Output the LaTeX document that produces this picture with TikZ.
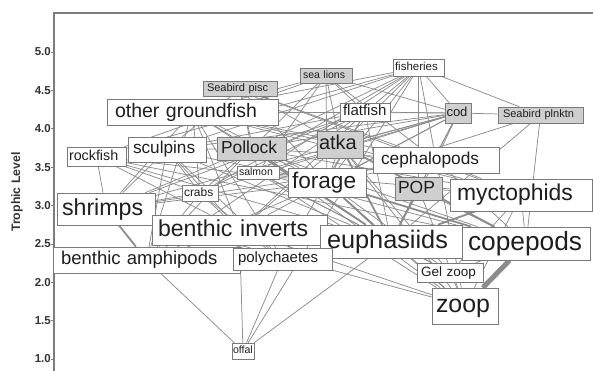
\documentclass[tikz,border=0pt]{standalone}
\usepackage{fontspec}
\setmainfont{Liberation Sans}
\usetikzlibrary{shadows, backgrounds}
\definecolor{linkgray}{HTML}{8C8C8C}
\definecolor{boxline}{HTML}{7A7A7A}
\definecolor{boxshade}{HTML}{CFCFCF}
\definecolor{inkgray}{HTML}{1E1E1E}
\definecolor{axisgray}{HTML}{7C7C7C}
\tikzset{
  box/.style={rectangle, draw=boxline, line width=0.6pt, fill=white,
              text=inkgray, inner ysep=0pt, align=left,
              drop shadow={shadow xshift=1.3pt, shadow yshift=-1.3pt,
                           fill=black!55, opacity=1}},
  grbox/.style={box, fill=boxshade},
  sz/.style n args={4}{text width=#1pt, minimum height=#2pt, inner xsep=#4pt,
                       font=\fontsize{#3}{#3}\selectfont,
                       text height=0.72*#3pt, text depth=0.2*#3pt},
  link/.style={draw=linkgray, line width=0.75pt},
  flow/.style={link, line width=1.8pt},
  axis/.style={draw=axisgray, line width=1.2pt},
  ticklab/.style={font=\bfseries\fontsize{11.5}{11.5}\selectfont, text=black!80,
                  anchor=east, inner sep=0pt}
}

\begin{document}
\begin{tikzpicture}[x=1pt, y=-1pt]
\useasboundingbox (0,0) rectangle (593,371);

% Axes
\draw[axis] (54,371) -- (54,13) -- (593,13);
\node[ticklab] (L50) at (51,52) {5.0};
\node[ticklab] (L45) at (51,90.4) {4.5};
\node[ticklab] (L40) at (51,128.8) {4.0};
\node[ticklab] (L35) at (51,167.1) {3.5};
\node[ticklab] (L30) at (51,205.5) {3.0};
\node[ticklab] (L25) at (51,243.9) {2.5};
\node[ticklab] (L20) at (51,282.3) {2.0};
\node[ticklab] (L15) at (51,320.6) {1.5};
\node[ticklab] (L10) at (51,359) {1.0};
\draw[axis, line width=0.8pt] (L50.east) -- ++(3,0) (L45.east) -- ++(3,0)
  (L40.east) -- ++(3,0) (L35.east) -- ++(3,0) (L30.east) -- ++(3,0)
  (L25.east) -- ++(3,0) (L20.east) -- ++(3,0) (L15.east) -- ++(3,0)
  (L10.east) -- ++(3,0);
\node[rotate=90, font=\bfseries\fontsize{12.3}{12.3}\selectfont, text=black!80]
  (TLevel) at (17,192) {Trophic Level};

% Top predators
\node[box, sz={47}{17}{11.5}{2}] (Fisheries) at (418.5,67.5) {fisheries};
\node[grbox, sz={46}{15}{10.5}{3}] (SeaLions) at (326,75.5) {sea lions};
\node[grbox, sz={66}{15}{11}{4}] (SeabirdPisc) at (240,88.5) {Seabird pisc};
\node[box, sz={155}{26}{19.5}{8}] (OtherGF) at (192.5,112) {other groundfish};
\node[box, sz={44}{18}{15}{3}] (Flatfish) at (365,112) {flatfish};
\node[grbox, sz={23}{20}{13}{1.5}] (Cod) at (458,113) {cod};
\node[grbox, sz={75}{16}{11}{5}] (SeabirdPlk) at (540.5,115) {Seabird plnktn};

% Mid level fish
\node[box, sz={55}{19}{14.3}{2}] (Rockfish) at (96.5,156.5) {rockfish};
\node[box, sz={68}{25}{17.2}{5}] (Sculpins) at (167,149.5) {sculpins};
\node[grbox, sz={61}{23}{17.4}{4}] (Pollock) at (251.5,148.5) {Pollock};
\node[grbox, sz={42}{27}{20}{2}] (Atka) at (340,144.5) {atka};
\node[box, sz={110}{26}{17.3}{8}] (Cephalo) at (436,160) {cephalopods};
\node[box, sz={38}{13}{10.5}{2}] (Salmon) at (258,172.5) {salmon};
\node[box, sz={70}{29}{22.6}{4}] (Forage) at (327,182.5) {forage};
\node[grbox, sz={41}{23}{17.5}{3}] (POP) at (418.5,188.5) {POP};
\node[box, sz={128}{32}{22.9}{7}] (Mycto) at (521,195) {myctophids};
\node[box, sz={32}{16}{12}{2}] (Crabs) at (200,193) {crabs};

% Lower levels
\node[box, sz={88}{32}{23.2}{5}] (Shrimps) at (106,209) {shrimps};
\node[box, sz={163}{30}{23.1}{6}] (BenthInv) at (239.5,230) {benthic inverts};
\node[box, sz={128}{33}{25.3}{7}] (Euphs) at (391,241.5) {euphasiids};
\node[box, sz={116}{33}{26.3}{6}] (Copepods) at (526,243.5) {copepods};
\node[box, sz={171}{26}{18.5}{8}] (BenthAmph) at (146.5,260) {benthic amphipods};
\node[box, sz={89}{22}{15}{5}] (Polych) at (282.5,259) {polychaetes};
\node[box, sz={58}{19}{13.5}{4}] (GelZoop) at (450,272.5) {Gel zoop};
\node[box, sz={58}{36}{24.9}{4}] (Zoop) at (465,306) {zoop};
\node[box, sz={20}{16}{10.6}{1}] (Offal) at (243,351) {offal};

% --- Links ---
\begin{scope}[on background layer]
% fisheries
\draw[link] (Fisheries) edge (OtherGF) edge (Sculpins) edge (Rockfish) edge (Pollock)
  edge (Flatfish) edge (Atka) edge (Cod) edge (POP) edge (Cephalo) edge (Salmon)
  edge (Crabs) edge (SeabirdPlk) edge (Offal) edge (Forage);
% sea lions
\draw[link] (SeaLions) edge (Pollock) edge (Atka) edge (OtherGF) edge (Salmon)
  edge (Forage) edge (Cephalo) edge (Flatfish) edge (Cod) edge (Rockfish);
% seabirds
\draw[link] (SeabirdPisc) edge (Pollock) edge (Forage) edge (Sculpins) edge (Mycto)
  edge (Cephalo) edge (Atka) edge (Salmon);
\draw[link] (SeabirdPlk) edge (Euphs) edge (Copepods) edge (Forage) edge (Cod);
% cod
\draw[link] (Cod) edge (Pollock) edge (Atka) edge (Flatfish) edge (Sculpins)
  edge (Forage) edge (Shrimps) edge (Crabs) edge (BenthInv) edge (Euphs)
  edge (Cephalo) edge (POP) edge (OtherGF) edge (Salmon);
% other groundfish
\draw[link] (OtherGF) edge (Shrimps) edge (BenthInv) edge (Crabs) edge (Forage)
  edge (Polych) edge (Euphs) edge (BenthAmph) edge (Pollock) edge (Flatfish)
  edge (Cephalo) edge (Mycto) edge (Atka);
% flatfish
\draw[link] (Flatfish) edge (BenthInv) edge (Polych) edge (BenthAmph) edge (Shrimps)
  edge (Crabs) edge (Euphs) edge (Forage) edge (Pollock) edge (Sculpins);
% rockfish, sculpins
\draw[link] (Rockfish) edge (Shrimps) edge (BenthInv) edge (Euphs) edge (Forage)
  edge (Crabs) edge (Copepods);
\draw[link] (Sculpins) edge (Shrimps) edge (Crabs) edge (BenthInv) edge (BenthAmph)
  edge (Polych) edge (Forage) edge (Euphs) edge (Pollock);
% pollock, atka
\draw[link] (Pollock) edge[flow] (Euphs) edge (Copepods) edge (Forage) edge (Shrimps)
  edge (Mycto) edge (Zoop) edge (BenthAmph) edge (Crabs) edge (Cephalo);
\draw[link] (Atka) edge[flow] (Euphs) edge[flow] (Copepods) edge (Forage) edge (Zoop)
  edge (BenthInv) edge (Mycto) edge (GelZoop);
% cephalopods, salmon
\draw[link] (Cephalo) edge (Forage) edge (Euphs) edge (Mycto) edge (Copepods)
  edge (Shrimps) edge (Zoop);
\draw[link] (Salmon) edge (Forage) edge (Euphs) edge (Copepods) edge (Mycto)
  edge (Zoop) edge (GelZoop);
% forage, POP, myctophids
\draw[link] (Forage) edge[flow] (Euphs) edge[flow] (Copepods) edge (Zoop)
  edge (GelZoop) edge (BenthAmph) edge (Shrimps);
\draw[link] (POP) edge[flow] (Euphs) edge (Copepods) edge (Mycto) edge (Zoop);
\draw[link] (Mycto) edge[flow] (Euphs) edge (Copepods) edge (Zoop) edge (GelZoop);
% benthos
\draw[link] (Crabs) edge (BenthInv) edge (Polych) edge (BenthAmph) edge (Shrimps);
\draw[link] (Shrimps) edge[flow] (BenthAmph) edge (Polych) edge (BenthInv) edge (Zoop);
\draw[link] (BenthInv) edge (Polych) edge (BenthAmph) edge (Offal) edge (Zoop);
% plankton
\draw[link] (Euphs) edge (Zoop) edge (GelZoop) edge (Offal);
\draw[link] (GelZoop) edge (Zoop) edge (Copepods);
\draw[link] (Offal) edge (BenthAmph) edge (Polych);
\draw[link] (Copepods) edge[line width=5pt] (Zoop);
\end{scope}

\end{tikzpicture}
\end{document}
